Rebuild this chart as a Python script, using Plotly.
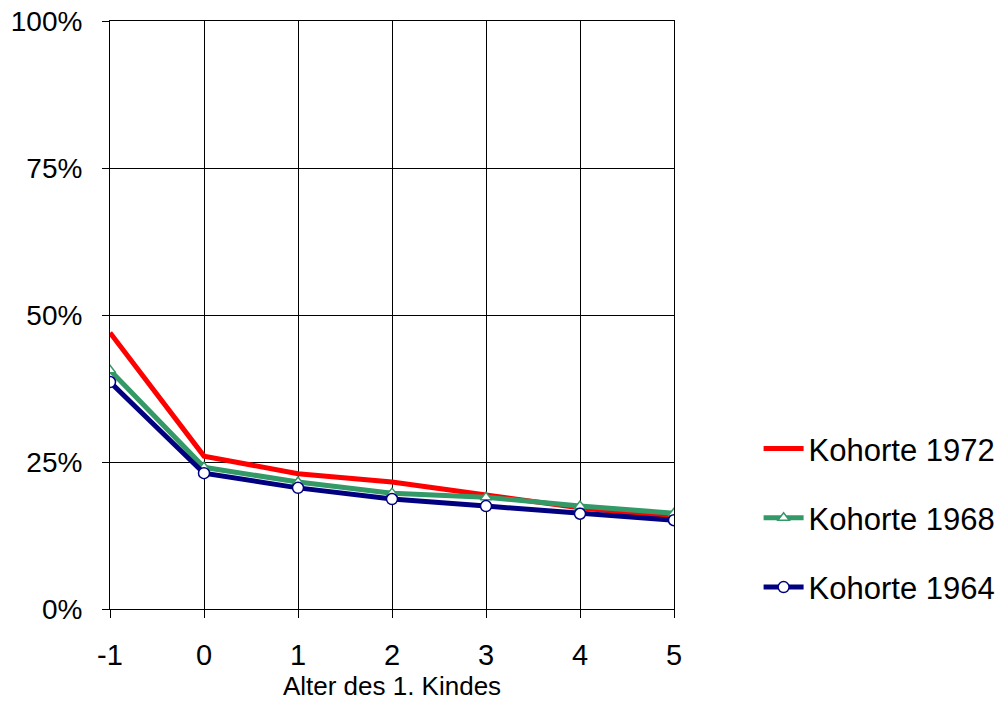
import plotly.graph_objects as go

x_labels = [-1, 0, 1, 2, 3, 4, 5]
kohorte_1972 = [0.470, 0.260, 0.230, 0.216, 0.194, 0.172, 0.156]
kohorte_1968 = [0.406, 0.241, 0.216, 0.197, 0.190, 0.175, 0.163]
kohorte_1964 = [0.386, 0.231, 0.206, 0.187, 0.175, 0.162, 0.151]
y_ticks = [0, 0.25, 0.5, 0.75, 1.0]

font_family = "Arial, Liberation Sans, sans-serif"

fig = go.Figure()
fig.add_trace(go.Scatter(
    x=x_labels, y=kohorte_1972, name="Kohorte 1972", mode="lines",
    line=dict(color="#FF0000", width=5), legendgroup="a"))
fig.add_trace(go.Scatter(
    x=x_labels, y=kohorte_1968, name="Kohorte 1968", mode="lines+markers",
    line=dict(color="#339966", width=5),
    marker=dict(symbol="triangle-up", size=10, color="white",
                line=dict(color="#339966", width=1.5)), legendgroup="b"))
fig.add_trace(go.Scatter(
    x=x_labels, y=kohorte_1964, name="Kohorte 1964", mode="lines+markers",
    line=dict(color="#000080", width=5),
    marker=dict(symbol="circle", size=11, color="white",
                line=dict(color="#000080", width=1.5)), legendgroup="c"))

fig.update_layout(
    width=1004, height=704,
    margin=dict(l=110, r=330, t=21, b=95, autoexpand=False),
    paper_bgcolor="white", plot_bgcolor="white",
    font=dict(family=font_family, color="black"),
    showlegend=True,
    legend=dict(x=1.15, y=0.155, xanchor="left", yanchor="middle",
                font=dict(size=31, family=font_family),
                tracegroupgap=26, traceorder="grouped", itemwidth=40,
                bgcolor="rgba(0,0,0,0)"),
)
fig.update_xaxes(
    range=[-1, 5], tickvals=x_labels, ticktext=[str(v) for v in x_labels],
    showgrid=True, gridcolor="black", gridwidth=1,
    showline=True, linecolor="black", linewidth=1, mirror=True,
    ticks="outside", ticklen=8, tickcolor="black",
    zeroline=False, automargin=False,
    ticklabelstandoff=12,
    tickfont=dict(size=29),
    title=dict(text="Alter des 1. Kindes", font=dict(size=26), standoff=7),
)
fig.update_yaxes(
    range=[0, 1], tickvals=y_ticks, tickformat=".0%",
    showgrid=True, gridcolor="black", gridwidth=1,
    showline=True, linecolor="black", linewidth=1, mirror=True,
    ticks="outside", ticklen=7, tickcolor="black",
    zeroline=False, automargin=False,
    ticklabelstandoff=14,
    tickfont=dict(size=28),
)

fig.write_html("out.html",
               config={"displayModeBar": False},
               post_script="document.body.style.margin='0';document.body.style.overflow='hidden';")
